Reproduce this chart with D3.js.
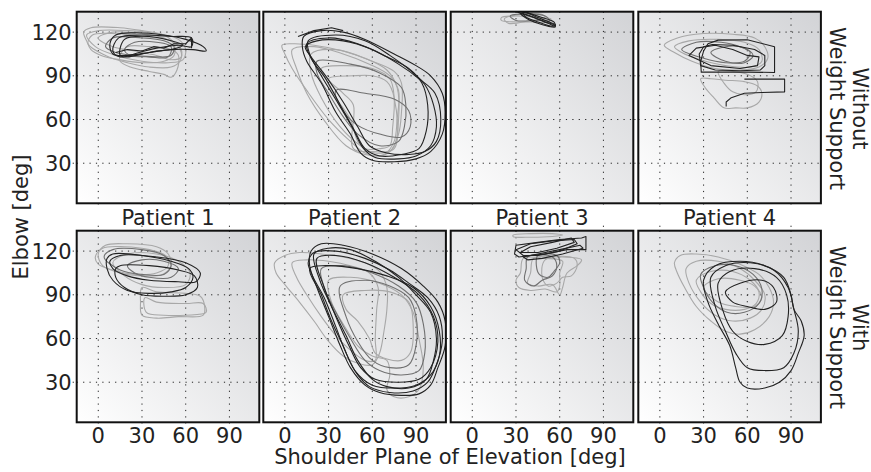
<!DOCTYPE html>
<html><head><meta charset="utf-8">
<script src="https://cdn.jsdelivr.net/npm/d3@7"></script>
<style>body{margin:0;background:#fff}svg{display:block}</style>
</head><body>
<script>
// ---------- tick labels & texts ----------
const xTicks = [0, 30, 60, 90];
const yTicks = [30, 60, 90, 120];
const patients = ["Patient 1", "Patient 2", "Patient 3", "Patient 4"];
const rowLabels = [["Without", "Weight Support"], ["With", "Weight Support"]];
const xLabel = "Shoulder Plane of Elevation [deg]";
const yLabel = "Elbow [deg]";
const xDomain = [-14.8, 110.5];
const yDomain = [2.5, 134];

// ---------- trajectories [shoulder, elbow] (deg) ----------
// Patient 1, without support
const p1WoLight = [
  [[-10,120],[-5,123],[15,123],[30,121],[45,118],[52,112],[52,104],[45,100],[30,99],[15,101],[2,104],[-5,108],[-8,114]],
  [[-7,112],[-4,118],[10,119],[30,117],[50,114],[57,108],[56,100],[50,96],[35,96],[20,99],[5,104]],
  [[15,104],[20,110],[35,110],[50,108],[55,104],[54,94],[50,89],[45,91],[35,93],[22,96],[15,100]],
  [[0,116],[10,120],[30,119],[45,116],[55,110],[57,103],[50,101],[40,104],[25,107],[10,110]],
  [[-8,118],[0,121],[20,121],[40,119],[55,115],[60,108],[58,101],[48,99],[30,100],[12,104],[-2,110]]
];
const p1WoMid = [
  [[5,110],[10,116],[30,116],[45,114],[52,110],[50,104],[40,103],[25,104],[12,106]],
  [[18,108],[25,113],[40,113],[50,110],[48,103],[35,103],[22,104]]
];
const p1WoDark = [
  [[8,112],[12,118],[25,119.5],[45,118],[60,115],[72,110],[74,107],[65,108],[50,108],[35,106],[20,104],[10,105]],
  [[10,107],[14,116],[30,118],[50,117],[64,116],[64,110],[55,111],[40,109],[28,106],[15,103]],
  [[15,104],[18,115],[35,117],[50,114],[58,111],[50,108],[40,107],[30,105],[20,103]]
];
const p1WoOpen = [
  [[12,106],[20,108],[30,107],[38,110],[45,109],[52,112],[60,112],[64,116],[64,109]]
];

// Patient 2, without support
const p2WoLight = [
  [[-2,111],[5,112],[20,111],[40,107],[60,100],[75,93],[80,85],[80,65],[78,50],[72,38],[65,35],[55,37],[45,45],[30,60],[15,80],[5,95],[0,105]],
  [[5,108],[20,110],[40,105],[58,98],[72,90],[78,80],[77,60],[75,45],[68,36],[55,36],[42,42],[28,58],[15,78],[8,95]],
  [[25,95],[40,97],[60,95],[72,88],[75,75],[74,55],[72,42],[65,40],[55,40],[50,45],[45,60],[35,75],[28,88]],
  [[18,105],[35,108],[55,102],[70,94],[77,82],[78,60],[74,40],[62,37],[52,42],[38,55],[25,75],[18,92]],
  [[30,88],[47,90],[60,90],[70,86],[75,75],[75,40],[60,38],[47,40],[47,70],[40,78]]
];
const p2WoMid = [
  [[22,100],[45,98],[65,92],[80,82],[83,70],[82,55],[78,45],[65,42],[50,50],[40,62],[30,78],[22,92]],
  [[35,80],[55,78],[75,74],[85,66],[86,55],[80,48],[65,50],[50,56],[40,66]]
];
const p2WoDark = [
  [[13,117],[25,121],[40,120],[55,115],[75,105],[90,97],[100,90],[108,78],[110,65],[108,50],[100,38],[90,33],[75,31],[60,32],[52,37],[45,50],[35,65],[25,85],[15,100],[12,110]],
  [[15,112],[30,116],[50,112],[70,103],[85,95],[94,85],[98,70],[97,52],[92,40],[80,36],[65,35],[55,40],[48,52],[38,70],[28,88],[18,102]],
  [[14,110],[22,114],[40,114],[60,108],[78,98],[92,88],[103,78],[107,60],[104,45],[96,38],[85,36],[70,37],[58,42],[50,55],[40,72],[28,90],[18,103]],
  [[16,114],[35,118],[55,114],[72,104],[88,92],[96,84],[102,70],[104,55],[100,42],[90,35],[78,33],[62,34],[54,40],[46,55],[36,72],[25,90],[17,105]]
];
const p2WoOpen = [
  [[9,117],[20,121],[32,123],[40,121]]
];

// Patient 3, without support
const p3WoLight = [
  [[20,130],[30,131],[45,130],[54,129],[52,127],[40,127],[28,127],[20,128]],
  [[22,129],[32,132],[48,132],[50,130],[40,128],[25,126]]
];
const p3WoMid = [
  [[26,131],[38,132.5],[50,131],[53,128],[44,128],[30,128]]
];
const p3WoDark = [
  [[33,133],[40,131],[50,127],[56,125],[57,123.5],[52,124],[45,126],[38,129]],
  [[35,134],[45,130],[55,126],[57,125],[55,124],[45,127],[36,131]],
  [[30,134],[42,130],[52,126],[57,124],[56,127],[48,130],[38,133]]
];
const p3WoOpen = [];

// Patient 4, without support
const p4WoLight = [
  [[3,111],[12,116],[30,119],[50,118.5],[65,116],[72,110],[74,102],[68,96],[55,94],[38,95],[22,100],[10,106]],
  [[10,110],[20,114],[40,115],[58,113],[68,108],[70,100],[62,96],[45,97],[28,101],[15,106]],
  [[28,88],[31,82],[37,75],[44,68],[52,68],[60,68],[68,72],[70,78],[67,83],[58,86],[45,87],[35,88]],
  [[40,93],[44,85],[50,79],[58,77],[66,79],[67,86],[60,91],[50,93]]
];
const p4WoMid = [
  [[15,108],[25,113],[42,113],[55,110],[62,106],[58,100],[45,99],[30,102]],
  [[35,106],[45,110],[58,109],[64,104],[58,99],[45,100]]
];
const p4WoDark = [
  [[30,107],[33,112],[40,114.5],[60,114.7],[78.7,110],[78.7,92.3],[60,92.5],[40,92.5],[28.4,92.5],[28,100]],
  [[27,105],[30,110],[36,111.5],[50,111],[65,108],[72,104],[72,97],[69,94],[55,93.5],[38,94],[28,97]],
  [[20,104],[25,109],[38,111],[50,108],[60,104],[68,103],[67,97],[55,95],[35,97]]
];
const p4WoOpen = [
  [[58,87.7],[85.6,87.7],[85.6,79],[70,78.5],[58,78],[49,75],[45.5,72],[45.5,69]]
];

// Patient 1, with support
const p1WLight = [
  [[0,118],[5,124],[20,125],[40,123],[48,118],[50,110],[44,104],[30,103],[15,105],[3,110]],
  [[-2,116],[3,122],[18,123],[35,121],[46,117],[48,110],[40,105],[25,104],[10,107],[0,111]],
  [[30,95],[40,92],[60,91],[70,89],[73,82],[72,76],[55,75],[40,74],[30,76],[29,85]],
  [[10,112],[20,118],[40,118],[55,113],[63,105],[60,97],[45,95],[30,97],[18,103]],
  [[32,88],[40,85],[60,84],[72,84],[74,78],[60,76],[45,76],[33,78]]
];
const p1WMid = [
  [[4,116],[10,121],[30,121],[45,117],[50,110],[45,104],[30,104],[15,107]],
  [[20,110],[30,114],[45,113],[55,108],[50,102],[35,102],[25,105]]
];
const p1WDark = [
  [[6,115],[10,118],[30,117],[50,113],[62,108],[65,102],[60,95],[50,92],[35,91],[20,93],[10,100],[6,108]],
  [[12,108],[15,110],[35,110],[55,107],[66,103],[68,95],[60,90],[45,89],[30,90],[18,95],[12,102]],
  [[8,113],[15,117],[40,116],[60,112],[70,105],[67,99],[55,99],[35,100],[20,103],[10,108]]
];
const p1WOpen = [];

// Patient 2, with support
const p2WLight = [
  [[-7,112],[0,117],[10,119],[25,118],[40,116],[55,112],[65,106],[70,95],[70,80],[68,65],[65,50],[60,42],[50,43],[40,48],[30,58],[20,72],[10,85],[0,97],[-6,105]],
  [[5,112],[15,114],[30,113],[45,110],[58,105],[64,95],[63,80],[62,60],[62,45],[55,45],[45,52],[35,62],[25,75],[15,90],[8,102]],
  [[40,90],[55,93],[72,92],[85,85],[88,70],[86,50],[80,45],[70,46],[62,50],[58,60],[50,72],[42,80]],
  [[30,100],[45,102],[65,98],[80,90],[88,78],[92,60],[95,40],[92,25],[85,20],[75,20],[70,25],[72,35],[70,45],[60,48],[50,55],[40,70],[32,85]]
];
const p2WMid = [
  [[25,108],[40,110],[60,105],[78,96],[90,85],[95,70],[96,50],[92,38],[80,35],[65,38],[55,45],[45,60],[35,78],[27,95]],
  [[38,96],[55,100],[72,96],[85,88],[90,75],[90,55],[85,42],[72,40],[60,45],[50,58],[42,75]]
];
const p2WDark = [
  [[18,120],[25,125],[40,124],[60,118],[80,108],[95,96],[105,85],[110,72],[110,55],[105,40],[100,28],[92,22],[80,21],[65,23],[55,28],[45,40],[38,55],[30,75],[22,95],[17,110]],
  [[16,112],[20,119],[35,120],[55,115],[72,107],[85,98],[98,88],[106,75],[108,58],[104,42],[98,30],[88,24],[72,23],[58,27],[50,35],[42,50],[35,68],[27,88],[19,103]],
  [[20,118],[30,122],[45,121],[62,113],[78,102],[90,90],[100,78],[104,60],[102,45],[97,32],[85,26],[70,27],[60,32],[50,45],[42,62],[32,82],[24,100]],
  [[17,108],[28,110],[50,108],[70,103],[88,95],[100,82],[106,65],[106,48],[100,35],[90,28],[75,26],[60,28],[48,38],[40,55],[32,72],[25,90]],
  [[22,115],[35,117],[55,112],[75,102],[92,90],[102,75],[105,58],[100,40],[92,32],[78,30],[62,32],[52,40],[44,55],[35,75],[27,95]]
];
const p2WOpen = [];

// Patient 3, with support
const p3WLight = [
  [[28,131],[40,132],[55,132],[62,131],[55,130],[40,129.5],[28,130]],
  [[35,115],[33,105],[30,100],[32,95],[40,93],[50,94],[58,92],[60,96],[60,105],[62,113],[50,115]],
  [[42,115],[40,105],[38,98],[45,96],[55,97],[60,90],[62,95],[65,105],[72,110],[75,114],[60,116]],
  [[50,114],[48,102],[52,96],[58,98],[62,102],[68,103],[72,110],[70,115]]
];
const p3WMid = [
  [[38,116],[37,108],[36,100],[42,96],[48,100],[55,103],[58,110],[55,116]],
  [[45,117],[44,110],[46,104],[52,102],[56,106],[60,112],[58,117]]
];
const p3WDark = [
  [[29,118],[30,124],[45,126],[60,128],[75,129],[78,130],[78,121],[65,121],[50,118],[40,117],[32,116]],
  [[30,121],[40,125],[55,127],[70,128],[72,125],[60,120],[45,117],[35,117]],
  [[33,119],[40,123],[55,126],[68,129],[70,126],[58,122],[45,119]],
  [[35,116],[45,118],[60,121],[74,124],[76,122],[62,118],[48,115],[38,114]]
];
const p3WOpen = [];

// Patient 4, with support
const p4WLight = [
  [[10,112],[14,117],[25,118],[40,116],[55,111],[68,104],[75,95],[78,85],[75,75],[65,66],[55,63],[45,65],[35,72],[25,82],[17,95],[12,105]],
  [[18,108],[25,113],[40,113],[55,108],[65,100],[72,90],[70,80],[62,74],[50,72],[38,76],[28,85],[20,98]],
  [[25,100],[35,106],[50,106],[62,100],[68,92],[66,84],[58,80],[45,80],[35,84],[28,92]],
  [[30,95],[40,101],[55,100],[65,96],[70,88],[65,82],[52,82],[40,85]]
];
const p4WMid = [
  [[28,104],[38,110],[52,110],[64,104],[70,94],[68,84],[58,78],[46,78],[36,85],[30,95]]
];
const p4WDark = [
  [[30,100],[38,110],[55,113],[72,110],[85,102],[90,90],[92,80],[97,72],[99,62],[95,50],[90,38],[82,30],[72,26],[60,26],[55,30],[52,40],[48,55],[40,70],[33,85]],
  [[35,102],[45,110],[62,112],[78,107],[88,95],[92,80],[95,65],[92,50],[85,40],[72,38],[60,40],[52,50],[45,65],[38,82]],
  [[40,98],[48,106],[65,108],[80,102],[87,90],[88,75],[84,62],[72,56],[60,58],[50,65],[43,80]],
  [[45,92],[55,98],[70,100],[78,95],[80,85],[72,80],[60,82],[50,85]]
];
const p4WOpen = [];

// ---------- build panel table ----------
const panels = [
  {row:0,col:0,light:p1WoLight,mid:p1WoMid,dark:p1WoDark,open:p1WoOpen,boxy:false},
  {row:0,col:1,light:p2WoLight,mid:p2WoMid,dark:p2WoDark,open:p2WoOpen,boxy:false},
  {row:0,col:2,light:p3WoLight,mid:p3WoMid,dark:p3WoDark,open:p3WoOpen,boxy:false},
  {row:0,col:3,light:p4WoLight,mid:p4WoMid,dark:p4WoDark,open:p4WoOpen,boxy:true},
  {row:1,col:0,light:p1WLight,mid:p1WMid,dark:p1WDark,open:p1WOpen,boxy:false},
  {row:1,col:1,light:p2WLight,mid:p2WMid,dark:p2WDark,open:p2WOpen,boxy:false},
  {row:1,col:2,light:p3WLight,mid:p3WMid,dark:p3WDark,open:p3WOpen,boxy:true},
  {row:1,col:3,light:p4WLight,mid:p4WMid,dark:p4WDark,open:p4WOpen,boxy:false}
];

// ---------- layout ----------
const W = 871, H = 472;
const lefts = [76.7, 263.3, 450.7, 638.3];
const tops = [11.7, 230.7];
const pw = 182.6, ph = 191.6;
const FONT = "DejaVu Sans, Verdana, sans-serif";
const FS = 21;

const svg = d3.select("body").append("svg").attr("width", W).attr("height", H);
svg.append("rect").attr("width", W).attr("height", H).attr("fill", "#fff");
const defs = svg.append("defs");
const grad = defs.append("linearGradient").attr("id", "bg")
  .attr("x1", 0).attr("y1", 1).attr("x2", 1).attr("y2", 0);
grad.append("stop").attr("offset", 0).attr("stop-color", "#ffffff");
grad.append("stop").attr("offset", 1).attr("stop-color", "#d2d3d6");
defs.append("clipPath").attr("id", "clip").append("rect").attr("width", pw).attr("height", ph);

const x = d3.scaleLinear().domain(xDomain).range([0, pw]);
const y = d3.scaleLinear().domain(yDomain).range([ph, 0]);
const smooth = d3.line().x(d => x(d[0])).y(d => y(d[1])).curve(d3.curveCatmullRomClosed.alpha(0.5));
const boxy = d3.line().x(d => x(d[0])).y(d => y(d[1])).curve(d3.curveLinearClosed);
const open = d3.line().x(d => x(d[0])).y(d => y(d[1])).curve(d3.curveLinear);

panels.forEach(p => {
  const g = svg.append("g").attr("transform", `translate(${lefts[p.col]},${tops[p.row]})`);
  g.append("rect").attr("width", pw).attr("height", ph).attr("fill", "url(#bg)");
  // grid
  const grid = g.append("g").attr("stroke", "#222").attr("stroke-width", 1).attr("stroke-dasharray", "1.2,5.2");
  xTicks.forEach(t => grid.append("line").attr("x1", x(t)).attr("x2", x(t)).attr("y1", 0).attr("y2", ph));
  yTicks.forEach(t => grid.append("line").attr("y1", y(t)).attr("y2", y(t)).attr("x1", 0).attr("x2", pw));
  // outward tick marks
  xTicks.forEach(t => grid.append("line").attr("x1", x(t)).attr("x2", x(t)).attr("y1", ph).attr("y2", ph + 5));
  if (p.row === 1) xTicks.forEach(t => grid.append("line").attr("x1", x(t)).attr("x2", x(t)).attr("y1", -5).attr("y2", 0));
  yTicks.forEach(t => grid.append("line").attr("y1", y(t)).attr("y2", y(t)).attr("x1", -4).attr("x2", 0));
  // traces
  const tr = g.append("g").attr("clip-path", "url(#clip)").attr("fill", "none").attr("stroke-width", 1.1).attr("stroke-linejoin", "round");
  tr.selectAll(".l").data(p.light).join("path").attr("d", smooth).attr("stroke", "#a8a8a8");
  tr.selectAll(".m").data(p.mid).join("path").attr("d", smooth).attr("stroke", "#707070");
  tr.selectAll(".d").data(p.dark).join("path").attr("d", p.boxy ? boxy : smooth).attr("stroke", "#222");
  tr.selectAll(".o").data(p.open).join("path").attr("d", open).attr("stroke", "#222");
  // frame
  g.append("rect").attr("width", pw).attr("height", ph).attr("fill", "none").attr("stroke", "#111").attr("stroke-width", 2);
  // tick labels
  if (p.col === 0) {
    yTicks.forEach(t => g.append("text").attr("x", -5).attr("y", y(t) + 7.5)
      .attr("text-anchor", "end").attr("font-family", FONT).attr("font-size", FS).attr("fill", "#222").text(t));
  }
  if (p.row === 1) {
    xTicks.forEach(t => g.append("text").attr("x", x(t)).attr("y", ph + 20.5)
      .attr("text-anchor", "middle").attr("font-family", FONT).attr("font-size", FS).attr("fill", "#222").text(t));
  }
  if (p.row === 0) {
    g.append("text").attr("x", pw / 2).attr("y", ph + 21.5).attr("text-anchor", "middle")
      .attr("font-family", FONT).attr("font-size", FS).attr("fill", "#222").text(patients[p.col]);
  }
});

// axis titles
svg.append("text").attr("transform", `translate(28,217) rotate(-90)`).attr("text-anchor", "middle")
  .attr("font-family", FONT).attr("font-size", FS).attr("fill", "#222").text(yLabel);
svg.append("text").attr("x", 450).attr("y", 463.5).attr("text-anchor", "middle")
  .attr("font-family", FONT).attr("font-size", FS).attr("fill", "#222").text(xLabel);
// row labels
rowLabels.forEach((lab, r) => {
  const cy = tops[r] + ph / 2 + 1;
  svg.append("text").attr("transform", `translate(853,${cy}) rotate(90)`).attr("text-anchor", "middle")
    .attr("font-family", FONT).attr("font-size", FS).attr("fill", "#222").text(lab[0]);
  svg.append("text").attr("transform", `translate(829.5,${cy}) rotate(90)`).attr("text-anchor", "middle")
    .attr("font-family", FONT).attr("font-size", FS).attr("fill", "#222").text(lab[1]);
});
</script>
</body></html>
